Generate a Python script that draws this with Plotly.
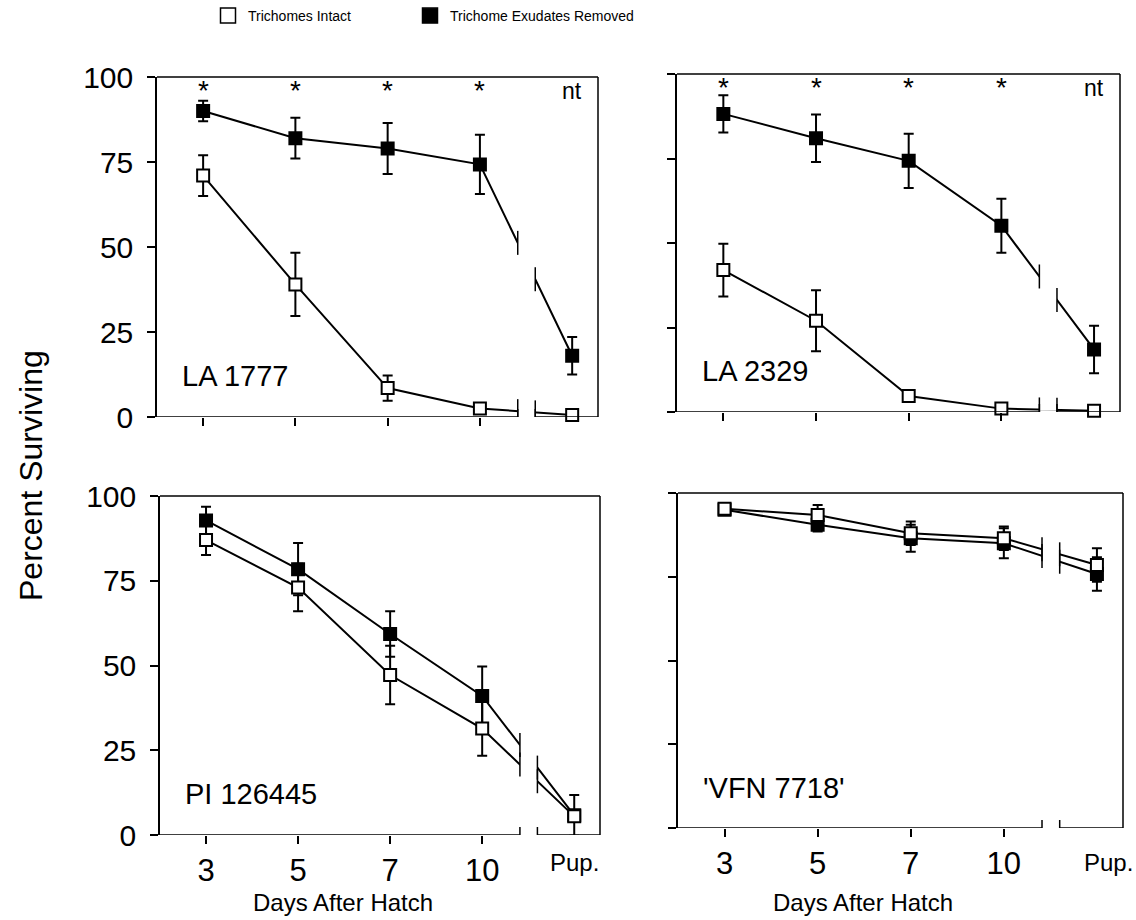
import plotly.graph_objects as go

# ---------------- data ----------------
days = ["3", "5", "7", "10", "Pup."]
panel_names = ["LA 1777", "LA 2329", "PI 126445", "'VFN 7718'"]

la1777_intact = [71, 39, 8.5, 2.5, 0.6]
la1777_intact_err = [6, 9.3, 3.7, 0, 0]
la1777_removed = [90, 82, 79, 74.3, 18]
la1777_removed_err = [3, 6, 7.5, 8.7, 5.5]

la2329_intact = [42, 27, 4.7, 1, 0.4]
la2329_intact_err = [7.8, 9, 0, 0, 0]
la2329_removed = [88.2, 81, 74.3, 55.1, 18.5]
la2329_removed_err = [5.5, 7, 8, 8, 7]

pi126445_intact = [87, 73, 47.2, 31.4, 5.5]
pi126445_intact_err = [4.4, 7, 8.6, 8, 0]
pi126445_removed = [92.8, 78.4, 59.3, 41, 5.8]
pi126445_removed_err = [4, 7.7, 6.7, 8.7, 6]

vfn7718_intact = [95.3, 93.4, 88, 86.5, 78.5]
vfn7718_intact_err = [0, 3, 3.5, 3.5, 5]
vfn7718_removed = [95, 90.5, 86.5, 85, 75.8]
vfn7718_removed_err = [0, 2, 4, 4.5, 5]

significance = ["*", "*", "*", "*", "nt"]
yticks = [0, 25, 50, 75, 100]
legend_names = ["Trichomes Intact", "Trichome Exudates Removed"]

# ---------------- layout helpers ----------------
W, H = 1136, 920
FONT = "Liberation Sans, Arial, Helvetica, sans-serif"
X_RANGE = [-0.5, 4.28]
BREAK_L, BREAK_R = 3.41, 3.6
xpos = list(range(len(days)))

# pixel boxes of the 4 panels: (left, right, top, bottom)
boxes = [(157, 598, 77, 417), (677, 1120, 74, 412),
         (160, 600, 496, 835), (678, 1123, 493, 828)]

panels = [
    (la1777_intact, la1777_intact_err, la1777_removed, la1777_removed_err),
    (la2329_intact, la2329_intact_err, la2329_removed, la2329_removed_err),
    (pi126445_intact, pi126445_intact_err, pi126445_removed, pi126445_removed_err),
    (vfn7718_intact, vfn7718_intact_err, vfn7718_removed, vfn7718_removed_err),
]

fig = go.Figure()
shapes = []
annotations = []
layout = {}

for i, (box, data) in enumerate(zip(boxes, panels)):
    n = "" if i == 0 else str(i + 1)
    xa, ya = "x" + n, "y" + n
    l, r, t, b = box
    intact, intact_err, removed, removed_err = data

    # removed (filled) first, intact (open) on top
    for vals, errs, filled in ((removed, removed_err, True), (intact, intact_err, False)):
        fig.add_trace(go.Scatter(
            x=xpos, y=vals, xaxis=xa, yaxis=ya, mode="lines+markers",
            showlegend=False, cliponaxis=False,
            line=dict(color="black", width=2),
            marker=dict(symbol="square", size=12,
                        color="black" if filled else "white",
                        line=dict(color="black", width=2)),
            error_y=dict(type="data", array=errs, visible=True,
                         color="black", thickness=2, width=5),
        ))

    layout["xaxis" + n] = dict(
        domain=[l / W, r / W], anchor=ya, range=X_RANGE, automargin=False,
        tickvals=xpos[:4], ticktext=days[:4] if i >= 2 else [""] * 4,
        ticks="outside", ticklen=8, tickwidth=1.5, tickcolor="black",
        showline=False, showgrid=False, zeroline=False,
        tickfont=dict(family=FONT, size=31, color="black"),
    )
    layout["yaxis" + n] = dict(
        domain=[1 - b / H, 1 - t / H], anchor=xa, range=[0, 100], automargin=False,
        tickvals=yticks, ticktext=[str(v) for v in yticks] if i % 2 == 0 else [""] * 5,
        ticks="outside", ticklen=8, tickwidth=1.5, tickcolor="black",
        showline=True, linecolor="black", linewidth=1.5,
        showgrid=False, zeroline=False, ticklabelstandoff=8,
        tickfont=dict(family=FONT, size=30, color="black"),
    )

    # white gap for the axis break
    shapes.append(dict(type="rect", xref=xa, yref=ya + " domain", layer="above",
                       x0=BREAK_L, x1=BREAK_R, y0=0.004, y1=0.996,
                       fillcolor="white", line=dict(width=0)))
    # frame: top, right, bottom (with break)
    fl = dict(color="black", width=1.5)
    shapes.append(dict(type="line", xref=xa + " domain", yref=ya + " domain", layer="above",
                       x0=0, x1=1, y0=1, y1=1, line=fl))
    shapes.append(dict(type="line", xref=xa + " domain", yref=ya + " domain", layer="above",
                       x0=1, x1=1, y0=0, y1=1, line=fl))
    shapes.append(dict(type="line", xref=xa, yref=ya, layer="above",
                       x0=X_RANGE[0], x1=BREAK_L, y0=0, y1=0, line=fl))
    shapes.append(dict(type="line", xref=xa, yref=ya, layer="above",
                       x0=BREAK_R, x1=X_RANGE[1], y0=0, y1=0, line=fl))
    # break marks on the axis
    for xb in (BREAK_L, BREAK_R):
        shapes.append(dict(type="line", xref=xa, yref=ya, layer="above",
                           ysizemode="pixel", yanchor=0, y0=-8, y1=8,
                           x0=xb, x1=xb, line=dict(color="black", width=1.5)))
    # break marks on the data lines
    for vals in (intact, removed):
        for xb in (BREAK_L, BREAK_R):
            frac = (xb - xpos[3]) / (xpos[4] - xpos[3])
            yb = vals[3] + (vals[4] - vals[3]) * frac
            shapes.append(dict(type="line", xref=xa, yref=ya, layer="above",
                               ysizemode="pixel", yanchor=yb, y0=-12, y1=12,
                               x0=xb, x1=xb, line=dict(color="black", width=1.5)))

    # panel label
    annotations.append(dict(xref=xa, yref=ya, x=-0.25, y=12, xanchor="left", yanchor="middle",
                            text=panel_names[i], showarrow=False,
                            font=dict(family=FONT, size=29, color="black")))
    # significance marks on the top row
    if i < 2:
        for k, s in enumerate(significance):
            annotations.append(dict(xref=xa, yref=ya, x=xpos[k], y=96 if s == "nt" else 96,
                                    text=s, showarrow=False, yanchor="middle",
                                    font=dict(family=FONT, size=23 if s == "nt" else 28, color="black")))
    else:
        # Pup. label and x title
        annotations.append(dict(xref=xa, yref="paper", x=4 if i == 2 else 4.12, y=1 - 862 / H,
                                text=days[4], showarrow=False, yanchor="middle",
                                font=dict(family=FONT, size=24, color="black")))
        annotations.append(dict(xref=xa + " domain", yref="paper", x=0.415, y=1 - 902 / H,
                                text="Days After Hatch", showarrow=False, yanchor="middle",
                                font=dict(family=FONT, size=24, color="black")))

# y title
annotations.append(dict(xref="paper", yref="paper", x=31 / W, y=1 - 476 / H,
                        xanchor="center", yanchor="middle",
                        text="Percent Surviving", textangle=-90, showarrow=False,
                        font=dict(family=FONT, size=32, color="black")))

# legend entries (one legend box per entry)
legend_ids = ["legend", "legend2"]
legend_x = [208 / W, 410 / W]
for name, filled, lid in zip(legend_names, (False, True), legend_ids):
    fig.add_trace(go.Scatter(
        x=[None], y=[None], mode="markers", name=name, showlegend=True, legend=lid,
        marker=dict(symbol="square", size=15, color="black" if filled else "white",
                    line=dict(color="black", width=1.5)),
    ))

legend_style = dict(orientation="h", y=1.0, xanchor="left", yanchor="top",
                    font=dict(family=FONT, size=14, color="black"),
                    bgcolor="rgba(0,0,0,0)")

fig.update_layout(
    width=W, height=H, margin=dict(l=0, r=0, t=0, b=0, autoexpand=False),
    paper_bgcolor="white", plot_bgcolor="white",
    font=dict(family=FONT, color="black"),
    shapes=shapes, annotations=annotations,
    legend=dict(x=legend_x[0], **legend_style),
    legend2=dict(x=legend_x[1], **legend_style),
    **layout,
)

fig.write_html("out.html", config={"displayModeBar": False},
               post_script="document.body.style.margin='0';")
